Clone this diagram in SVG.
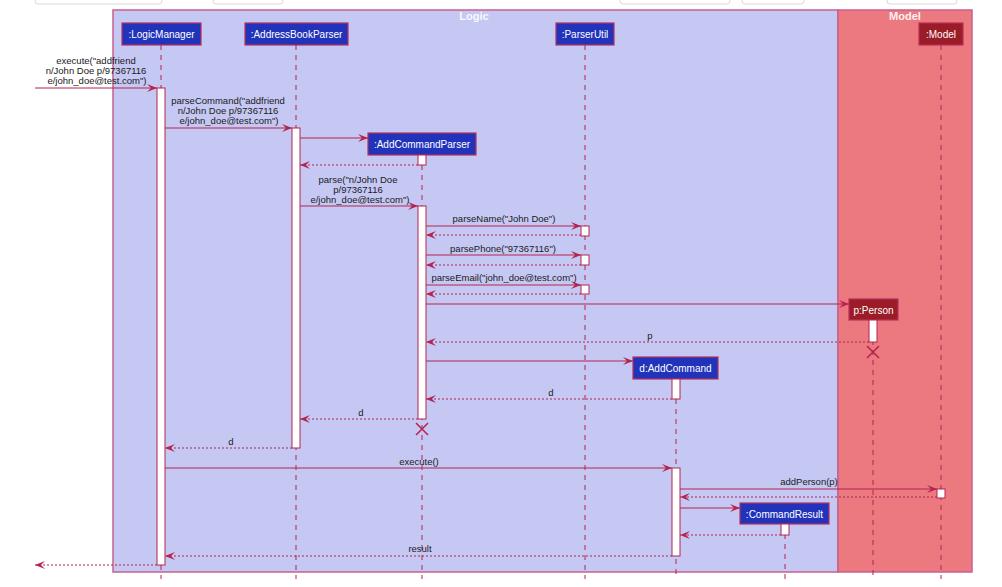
<svg xmlns="http://www.w3.org/2000/svg" width="1002" height="587" viewBox="0 0 1002 587">
<defs>
<marker id="ah" viewBox="0 0 10 8" refX="10" refY="4" markerWidth="10" markerHeight="8" orient="auto" markerUnits="userSpaceOnUse"><path d="M0,0 L10,4 L0,8 L4,4 Z" fill="#B3244F"/></marker>
</defs>
<style>
text{font-family:"Liberation Sans",Arial,sans-serif}
.lbl{font-size:9.5px;fill:#1a1a1a;text-anchor:middle}
.pt{font-size:10px;fill:#ffffff;text-anchor:middle}
.ttl{font-size:11px;font-weight:bold;fill:#ffffff;text-anchor:middle;opacity:0.9}
.box{fill:#2233BB;stroke:#B8305A;stroke-width:1.2}
.mbox{fill:#9A1C26;stroke:#B8305A;stroke-width:1.2}
.life{stroke:#B3244F;stroke-width:1;stroke-dasharray:5,5;fill:none}
.act{fill:#ffffff;stroke:#B3244F;stroke-width:1}
.msg{stroke:#B3244F;stroke-width:1;fill:none;marker-end:url(#ah)}
.ret{stroke:#B3244F;stroke-width:1;stroke-dasharray:2,2;fill:none;marker-end:url(#ah)}
.x{stroke:#B3244F;stroke-width:1.5}
.ui{fill:#ffffff;stroke:#d8d8d8;stroke-width:1}
</style>
<rect width="1002" height="587" fill="#ffffff"/>
<g id="ui-artifacts">
<rect class="ui" x="35" y="-6" width="127" height="10" rx="3"/>
<rect class="ui" x="213" y="-6" width="70" height="10" rx="3"/>
<rect class="ui" x="620" y="-6" width="110" height="10" rx="3"/>
<rect class="ui" x="742" y="-6" width="62" height="10" rx="3"/>
<rect class="ui" x="887" y="-6" width="70" height="10" rx="3"/>
</g>
<g id="frame-logic">
<rect x="113" y="10" width="725" height="562" fill="#C6C8F4" stroke="#C8608E" stroke-width="1.5"/>
<text class="ttl" x="474" y="20">Logic</text>
</g>
<g id="frame-model">
<rect x="838" y="10" width="134" height="562" fill="#EC7880" stroke="#C8608E" stroke-width="1.5"/>
<text class="ttl" x="905" y="20">Model</text>
</g>
<g id="lifelines">
<line class="life" x1="161" y1="45" x2="161" y2="579"/>
<line class="life" x1="296" y1="45" x2="296" y2="579"/>
<line class="life" x1="422" y1="155" x2="422" y2="579"/>
<line class="life" x1="585" y1="45" x2="585" y2="579"/>
<line class="life" x1="676" y1="379" x2="676" y2="579"/>
<line class="life" x1="785" y1="524" x2="785" y2="579"/>
<line class="life" x1="873" y1="320" x2="873" y2="579"/>
<line class="life" x1="941" y1="45" x2="941" y2="579"/>
</g>
<g id="LogicManager">
<rect class="box" x="122" y="23" width="79" height="22"/>
<text class="pt" x="161.5" y="37.5">:LogicManager</text>
<rect class="act" x="157" y="88" width="8" height="477"/>
</g>
<g id="AddressBookParser">
<rect class="box" x="245" y="23" width="103" height="22"/>
<text class="pt" x="296.5" y="37.5">:AddressBookParser</text>
<rect class="act" x="292" y="128" width="8" height="320"/>
</g>
<g id="AddCommandParser">
<rect class="box" x="368" y="133" width="108" height="22"/>
<text class="pt" x="422" y="147.5">:AddCommandParser</text>
<rect class="act" x="418" y="155" width="8" height="10"/>
<rect class="act" x="418" y="206" width="8" height="213"/>
<path class="x" d="M416,423 L428,435 M428,423 L416,435"/>
</g>
<g id="ParserUtil">
<rect class="box" x="556" y="23" width="58" height="22"/>
<text class="pt" x="585" y="37.5">:ParserUtil</text>
<rect class="act" x="581" y="226" width="8" height="10"/>
<rect class="act" x="581" y="255" width="8" height="10"/>
<rect class="act" x="581" y="285" width="8" height="9"/>
</g>
<g id="Person">
<rect class="mbox" x="849" y="299" width="49" height="21"/>
<text class="pt" x="873.5" y="313.5">p:Person</text>
<rect class="act" x="869" y="320" width="8" height="22"/>
<path class="x" d="M867,346 L879,358 M879,346 L867,358"/>
</g>
<g id="AddCommand">
<rect class="box" x="633" y="357" width="85" height="22"/>
<text class="pt" x="675.5" y="371.5">d:AddCommand</text>
<rect class="act" x="672" y="379" width="8" height="20"/>
<rect class="act" x="672" y="468" width="8" height="88"/>
</g>
<g id="CommandResult">
<rect class="box" x="740" y="503" width="89" height="21"/>
<text class="pt" x="784.5" y="517.5">:CommandResult</text>
<rect class="act" x="781" y="524" width="8" height="11"/>
</g>
<g id="Model">
<rect class="mbox" x="919" y="23" width="44" height="22"/>
<text class="pt" x="941" y="37.5">:Model</text>
<rect class="act" x="937" y="489" width="8" height="9"/>
</g>
<g id="connectors">
<line class="msg" x1="35" y1="88" x2="157" y2="88"/>
<text class="lbl" x="96" y="64">execute("addfriend</text>
<text class="lbl" x="96" y="74">n/John Doe p/97367116</text>
<text class="lbl" x="97" y="84">e/john_doe@test.com")</text>
<line class="msg" x1="165" y1="128" x2="292" y2="128"/>
<text class="lbl" x="228" y="104">parseCommand("addfriend</text>
<text class="lbl" x="228" y="114">n/John Doe p/97367116</text>
<text class="lbl" x="229" y="124">e/john_doe@test.com")</text>
<line class="msg" x1="300" y1="138" x2="368" y2="138"/>
<line class="ret" x1="418" y1="165" x2="300" y2="165"/>
<line class="msg" x1="300" y1="206" x2="418" y2="206"/>
<text class="lbl" x="358" y="182.5">parse("n/John Doe</text>
<text class="lbl" x="358" y="192.5">p/97367116</text>
<text class="lbl" x="360" y="203">e/john_doe@test.com")</text>
<line class="msg" x1="426" y1="226" x2="581" y2="226"/>
<text class="lbl" x="504" y="222">parseName("John Doe")</text>
<line class="ret" x1="581" y1="235" x2="426" y2="235"/>
<line class="msg" x1="426" y1="255" x2="581" y2="255"/>
<text class="lbl" x="503" y="252">parsePhone("97367116")</text>
<line class="ret" x1="581" y1="265" x2="426" y2="265"/>
<line class="msg" x1="426" y1="285" x2="581" y2="285"/>
<text class="lbl" x="504" y="281">parseEmail("john_doe@test.com")</text>
<line class="ret" x1="581" y1="294" x2="426" y2="294"/>
<line class="msg" x1="426" y1="304" x2="849" y2="304"/>
<line class="ret" x1="869" y1="342" x2="426" y2="342"/>
<text class="lbl" x="650" y="339">p</text>
<line class="msg" x1="426" y1="361" x2="633" y2="361"/>
<line class="ret" x1="672" y1="399" x2="426" y2="399"/>
<text class="lbl" x="551" y="396">d</text>
<line class="ret" x1="418" y1="419" x2="300" y2="419"/>
<text class="lbl" x="361" y="416">d</text>
<line class="ret" x1="292" y1="448" x2="165" y2="448"/>
<text class="lbl" x="231" y="445">d</text>
<line class="msg" x1="165" y1="468" x2="672" y2="468"/>
<text class="lbl" x="419" y="465">execute()</text>
<line class="msg" x1="680" y1="489" x2="937" y2="489"/>
<text class="lbl" x="809" y="485">addPerson(p)</text>
<line class="ret" x1="937" y1="497" x2="680" y2="497"/>
<line class="msg" x1="680" y1="508" x2="740" y2="508"/>
<line class="ret" x1="781" y1="535" x2="680" y2="535"/>
<line class="ret" x1="672" y1="556" x2="165" y2="556"/>
<text class="lbl" x="420" y="552">result</text>
<line class="ret" x1="157" y1="565" x2="35" y2="565"/>
</g>
</svg>
